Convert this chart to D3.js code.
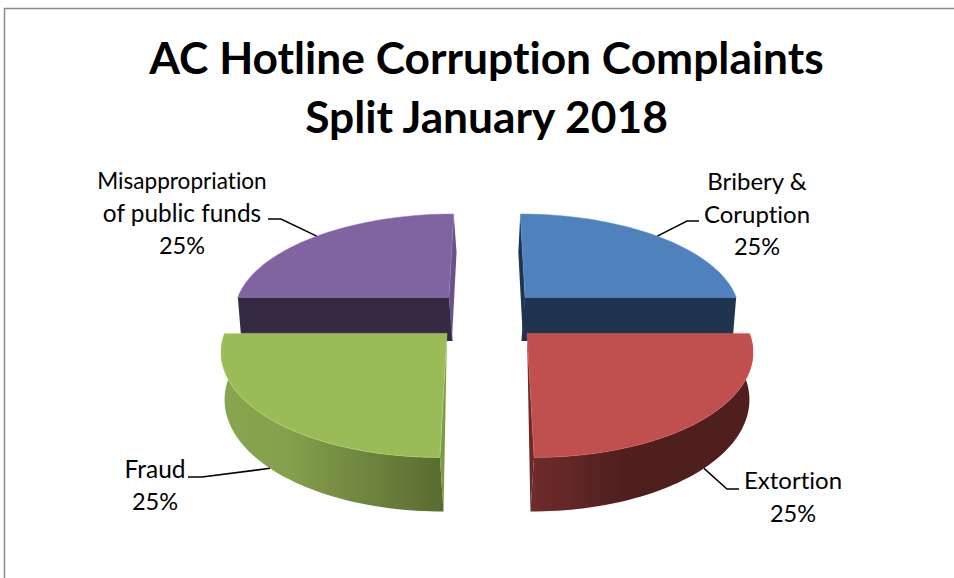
<!DOCTYPE html>
<html><head><meta charset="utf-8">
<script src="https://cdn.jsdelivr.net/npm/d3@7"></script>
<style>html,body{margin:0;padding:0;background:#fff;overflow:hidden}svg{display:block}text{font-family:Lato,"Noto Sans",sans-serif;fill:#000;font-variant-ligatures:none}</style>
</head><body><svg id="c" width="954" height="578"></svg>
<script>
const titleLines = ["AC Hotline Corruption Complaints", "Split January 2018"];
const categories = ["Bribery & Coruption", "Extortion", "Fraud", "Misappropriation of public funds"];
const values = [25, 25, 25, 25];
const labelLines = [["Bribery &", "Coruption", "25%"], ["Extortion", "25%"], ["Fraud", "25%"], ["Misappropriation", "of public funds", "25%"]];
const labelSizes = [[24, 24, 23.5], [24, 23.5], [24.5, 23.5], [22.6, 24.4, 23.5]];

const topColors = ["#4f81bd", "#c0504d", "#9bbb59", "#8064a2"];
const frontWallColors = ["#1f344f", "#4f201f", "#5a6b31", "#352a44"];
const sideWallColors = ["#1f344f", "#6b2a29", "#7f9a45", "#6a5289"];
const sideWallShift = [0.55, 1, 1, 0.8];
const rimGradients = [["#1f344f", "#1f344f"], ["#6f2c2b", "#4f1f1e"], ["#89a54f", "#596b31"], ["#352a44", "#352a44"]];
const labelAnchors = [[757, 182], [793, 481], [155, 469], [182, 181]];
const lineHeight = 32.5;
const leaderElbows = [[[687, 221], [699, 221]], [[727, 489], [739, 489]], [[202, 477], [188, 477]], [[281, 219], [268, 219]]];
const leaderDepth = [0, 1, 1, 0];

// perspective view of the pie plane
const cx = 487, horizon = -376, D = 6.9, K = 1495, A = 4767, explode = 0.2546;
const depthY = 0.065, depthX = 3.6;

const svg = d3.select("#c");
const defs = svg.append("defs");

svg.append("path").attr("d", "M4.5 578V8.5H954").attr("fill", "none").attr("stroke", "#8a8a8a").attr("stroke-width", 1.5);

const arcs = d3.pie().sort(null)(values);

function project(X, Y, Z, side) {
  return [cx + X * K / (D - Y) - side * depthX * Z, horizon + A * (1 + depthY * Z) / (D - Y)];
}
const toPath = d3.line();

const paintOrder = [3, 0, 2, 1];
paintOrder.forEach(i => {
  const a = arcs[i];
  const mid = (a.startAngle + a.endAngle) / 2;
  const ox = Math.sin(mid) * explode, oy = -Math.cos(mid) * explode;
  const side = Math.sign(Math.sin(mid));
  const isFrontSlice = Math.cos(mid) < 0;
  const pt = (ang, r, z, s = side) => project(ox + r * Math.sin(ang), oy - r * Math.cos(ang), z, s);
  const angles = d3.range(0, 61).map(t => a.startAngle + (a.endAngle - a.startAngle) * t / 60);
  const rimTop = angles.map(t => pt(t, 1, 0));
  const rimBot = angles.map(t => pt(t, 1, 1));
  const g = svg.append("g").attr("class", "slice").attr("data-name", categories[i]);

  // rim wall, seen only on the slices nearest the viewer
  if (isFrontSlice) {
    const gid = "rim" + i;
    const lg = defs.append("linearGradient").attr("id", gid).attr("x1", 0).attr("x2", 1).attr("y1", 0).attr("y2", 0);
    lg.append("stop").attr("offset", 0).attr("stop-color", rimGradients[i][0]);
    if (i === 2) lg.append("stop").attr("offset", 0.3).attr("stop-color", "#84a04c");
    lg.append("stop").attr("offset", i === 1 ? 0.42 : 1).attr("stop-color", rimGradients[i][1]);
    g.append("path")
      .attr("d", toPath(rimTop.concat(rimBot.slice().reverse())) + "Z")
      .attr("fill", `url(#${gid})`);
  }

  // radial walls that face the viewer
  [a.startAngle, a.endAngle].forEach(e => {
    const isFrontEdge = Math.abs(Math.cos(e)) < 1e-6;
    if (isFrontEdge && isFrontSlice) return;
    const s = isFrontEdge ? side : side * sideWallShift[i];
    const corners = [pt(e, 0, 0), pt(e, 1, 0), pt(e, 1, 1, s)];
    if (!isFrontSlice) corners.push(pt(e, 0, 1, s));
    g.append("path")
      .attr("d", toPath(corners) + "Z")
      .attr("fill", isFrontEdge ? frontWallColors[i] : sideWallColors[i]);
  });

  // top face
  g.append("path")
    .attr("d", toPath([pt(a.startAngle, 0, 0)].concat(rimTop)) + "Z")
    .attr("fill", topColors[i])
    .attr("stroke", d3.color(topColors[i]).brighter(0.5))
    .attr("stroke-opacity", 0.6)
    .attr("stroke-width", 0.8)
    .attr("stroke-linejoin", "round");
});

// leaders
arcs.forEach((a, i) => {
  const mid = (a.startAngle + a.endAngle) / 2;
  const ox = Math.sin(mid) * (explode + 1), oy = -Math.cos(mid) * (explode + 1);
  const start = project(ox, oy, leaderDepth[i], Math.sign(Math.sin(mid)));
  svg.append("path").attr("d", toPath([start].concat(leaderElbows[i])))
    .attr("fill", "none").attr("stroke", "#000").attr("stroke-width", 1.5);
});

// labels
labelLines.forEach((lines, i) => {
  lines.forEach((t, k) => {
    svg.append("text").attr("x", labelAnchors[i][0]).attr("y", labelAnchors[i][1] + k * lineHeight)
      .attr("dy", "0.35em").attr("text-anchor", "middle").attr("font-size", labelSizes[i][k]).text(t);
  });
});

// title
titleLines.forEach((t, k) => {
  svg.append("text").attr("x", 486.5).attr("y", 74 + k * 59)
    .attr("text-anchor", "middle").attr("font-size", 44.3).attr("font-weight", 700).text(t);
});
</script></body></html>
